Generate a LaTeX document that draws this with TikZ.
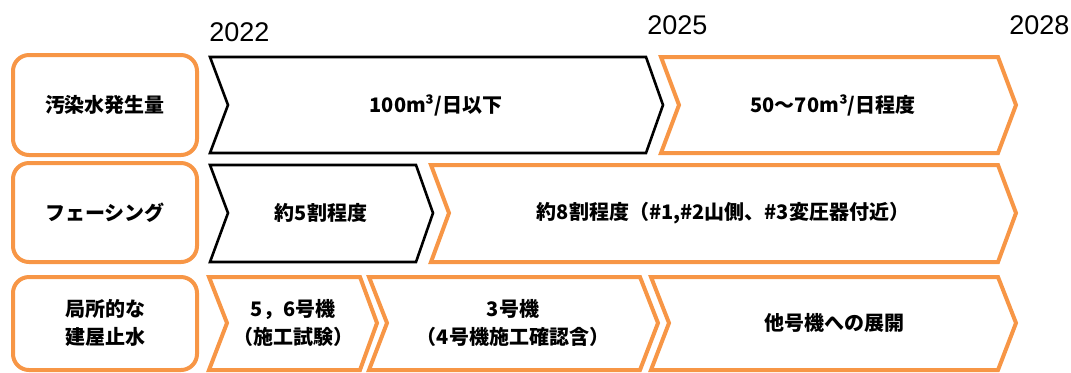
\documentclass[tikz,border=0pt]{standalone}
\usepackage{fontspec}
\setmainfont{Liberation Sans}
\newfontfamily\jpfont{Noto Sans CJK JP}
\definecolor{chevorange}{RGB}{247,150,70}
\tikzset{
	rowlabel/.style={draw=chevorange,line width=2pt,rounded corners=8pt},
	blackchev/.style={draw=black,line width=1.3pt,line join=miter},
	orangechev/.style={draw=chevorange,line width=2pt,line join=miter},
	chevtext/.style={font=\jpfont\bfseries\fontsize{10}{14}\selectfont,align=center,inner sep=0pt},
	yeartext/.style={font=\fontsize{13.5}{16}\selectfont,inner sep=0pt}
}
\begin{document}
\begin{tikzpicture}[x=0.5pt,y=-0.5pt]
	\useasboundingbox (0,0) rectangle (1071,372);
	% years
	\node[yeartext,anchor=west] (y2022) at (209,32) {2022};
	\node[yeartext,anchor=west] (y2025) at (647,25) {2025};
	\node[yeartext,anchor=west] (y2028) at (1009,25) {2028};
	% row labels
	\draw[rowlabel] (13,55) rectangle (197,155);
	\draw[rowlabel] (13,163) rectangle (197,262);
	\draw[rowlabel] (13,277) rectangle (197,370);
	\node[chevtext] (lab1) at (105,105) {汚染水発生量};
	\node[chevtext] (lab2) at (105,213) {フェーシング};
	\node[chevtext] (lab3) at (105,323) {局所的な\\建屋止水};
	% row 1
	\draw[blackchev] (210,57) -- (646,57) -- (663,105) -- (646,153) -- (210,153) -- (228,105) -- cycle;
	\draw[orangechev] (661,57) -- (998,57) -- (1016,105) -- (998,153) -- (661,153) -- (679,105) -- cycle;
	\node[chevtext] (w1) at (436,105) {100m³/日以下};
	\node[chevtext] (w2) at (833,105) {50～70m³/日程度};
	% row 2
	\draw[blackchev] (210,165) -- (416,165) -- (433,213) -- (416,262) -- (210,262) -- (228,213) -- cycle;
	\draw[orangechev] (431,165) -- (998,165) -- (1016,213) -- (998,262) -- (431,262) -- (449,213) -- cycle;
	\node[chevtext] (f1) at (321,213) {約5割程度};
	\node[chevtext] (f2) at (723,213) {約8割程度（\#1,\#2山側、\#3変圧器付近）};
	% row 3
	\draw[orangechev] (209,277) -- (360,277) -- (377,323) -- (360,370) -- (209,370) -- (227,323) -- cycle;
	\draw[orangechev] (369,277) -- (640,277) -- (658,323) -- (640,370) -- (369,370) -- (387,323) -- cycle;
	\draw[orangechev] (651,277) -- (998,277) -- (1016,323) -- (998,370) -- (651,370) -- (669,323) -- cycle;
	\node[chevtext] (s1) at (293,323) {5，6号機\\（施工試験）};
	\node[chevtext] (s2) at (513,323) {3号機\\（4号機施工確認含）};
	\node[chevtext] (s3) at (834,323) {他号機への展開};
\end{tikzpicture}
\end{document}
